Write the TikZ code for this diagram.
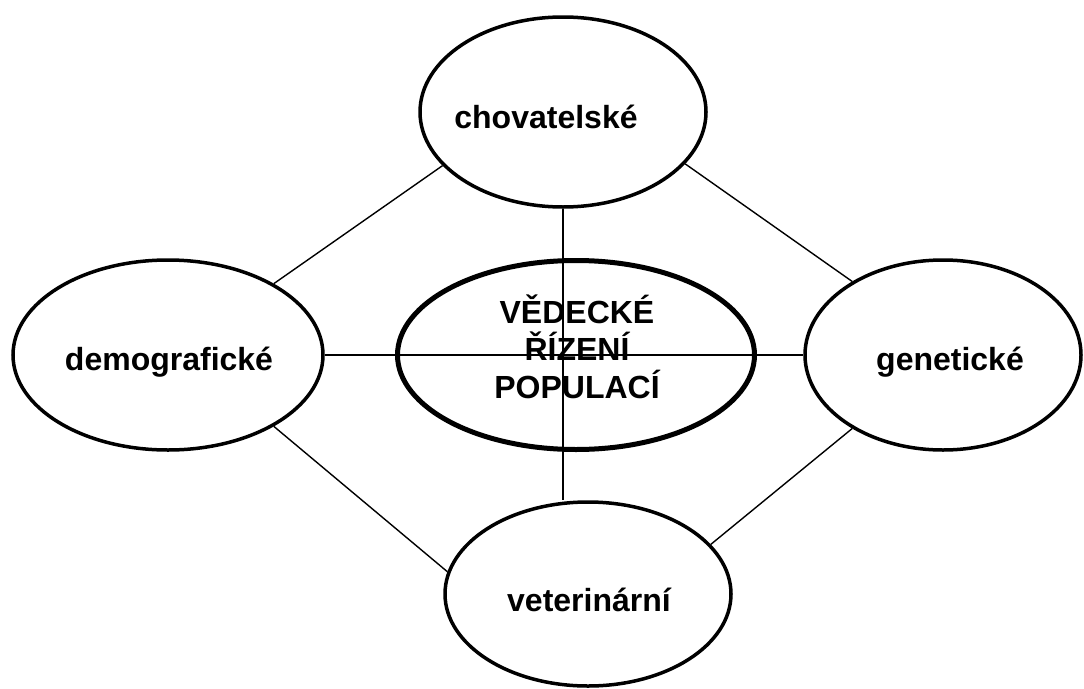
\documentclass[tikz,border=0pt]{standalone}
\usepackage{fontspec}
\setmainfont{Liberation Sans}
\usetikzlibrary{shapes.geometric}
\begin{document}
\begin{tikzpicture}[x=1pt,y=-1pt,
  oval/.style={ellipse,draw,line width=3.5pt,inner sep=0pt},
  mainoval/.style={ellipse,draw,line width=5pt,inner sep=0pt},
  lbl/.style={font=\fontsize{32}{37.5}\selectfont\bfseries,inner sep=0pt,anchor=base,align=center},
  conn/.style={line width=1.4pt}]
\useasboundingbox (0,0) rectangle (1084,688);
\node[oval,minimum width=286pt,minimum height=190pt] (ch) at (563,112) {};
\node[oval,minimum width=310pt,minimum height=190pt] (dem) at (168,355) {};
\node[oval,minimum width=276pt,minimum height=190pt] (gen) at (943,355) {};
\node[oval,minimum width=286pt,minimum height=184pt] (vet) at (588,594) {};
\node[mainoval,minimum width=357pt,minimum height=189pt] (mid) at (576,355) {};
\draw[conn] (ch.-156.7) -- (dem.34.3);
\draw[conn] (ch.-23.1) -- (gen.141.6);
\draw[conn] (dem.-34.3) -- (vet.171.4);
\draw[conn] (gen.-141.6) -- (vet.22.2);
\draw[conn] (ch.south) -- (vet.north -| ch.south);
\draw[conn] (dem.east) -- (gen.west);
\node[lbl] (tch) at (546,128) {chovatelské};
\node[lbl] (tdem) at (169,370) {demografické};
\node[lbl] (tgen) at (950,370) {genetické};
\node[lbl] (tvet) at (589,611) {veterinární};
\node[lbl] (tmid) at (577,398) {VĚDECKÉ\\ŘÍZENÍ\\POPULACÍ};
\end{tikzpicture}
\end{document}
